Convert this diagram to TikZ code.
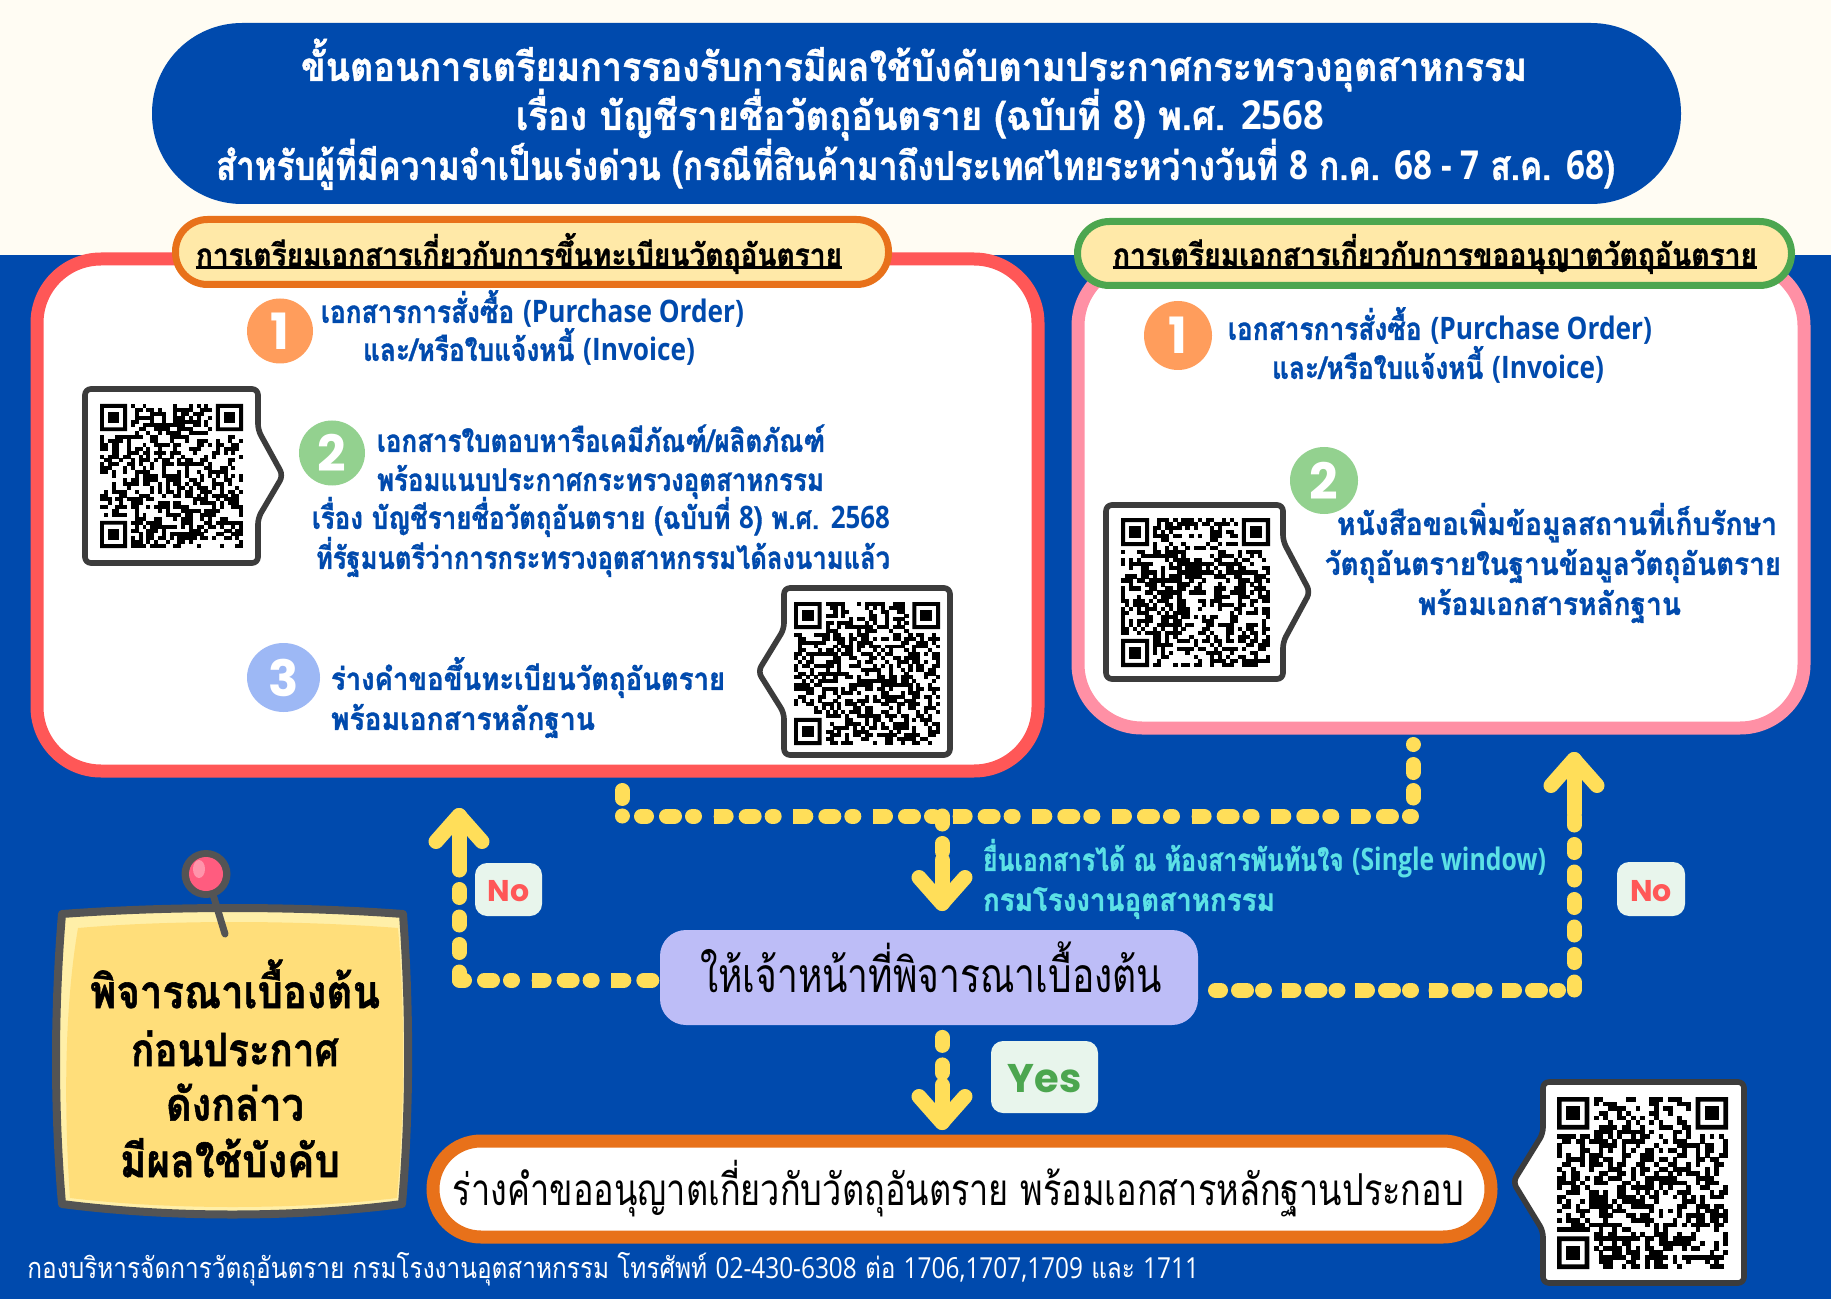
\documentclass[tikz,border=0pt]{standalone}
\usepackage{fontspec}
\usepackage{graphicx}
\usetikzlibrary{arrows.meta,shapes.geometric}
\setmainfont{Loma}[Script=Thai,BoldFeatures={FakeBold=1.2}]
\newfontfamily\latf{Open Sans}
\newfontfamily\digf{Poppins}
\newcommand{\la}[1]{{\latf #1}}
\definecolor{bluebg}{HTML}{004AAD}
\definecolor{cream}{HTML}{FFFCF3}
\definecolor{orangeb}{HTML}{E8711A}
\definecolor{redb}{HTML}{FF5757}
\definecolor{pinkb}{HTML}{FF90A5}
\definecolor{greenb}{HTML}{4CA64F}
\definecolor{pillfill}{HTML}{FFE9A8}
\definecolor{yel}{HTML}{FFDE59}
\definecolor{purp}{HTML}{BDBDF7}
\definecolor{mint}{HTML}{E8F5EC}
\definecolor{cyant}{HTML}{5CE1E6}
\definecolor{dark}{HTML}{3C3C3C}
\definecolor{stick}{HTML}{545454}
\definecolor{stickf}{HTML}{FFDE7A}
\definecolor{stickl}{HTML}{FFEFA8}
\definecolor{c1}{HTML}{FF9D5C}
\definecolor{c2}{HTML}{93D18F}
\definecolor{c3}{HTML}{9DB8F5}
\definecolor{pinr}{HTML}{FF5C7F}
\pgfdeclarearrow{
 name=Chev,
 setup code={\pgfarrowssettipend{3.75pt}\pgfarrowssetlineend{0pt}\pgfarrowssetbackend{-16pt}\pgfarrowssetvisualbackend{-16pt}},
 drawing code={\pgfsetlinewidth{7.5pt}\pgfsetroundcap\pgfsetroundjoin\pgfsetdash{}{0pt}%
  \pgfpathmoveto{\pgfqpoint{-13pt}{11.5pt}}\pgfpathlineto{\pgfpointorigin}\pgfpathlineto{\pgfqpoint{-13pt}{-11.5pt}}\pgfusepathqstroke}
}
\tikzset{
 hdots/.style={draw=yel,line width=7.5pt,line cap=round,
   dash pattern=on 2.5pt off 10pt on 4pt off 9pt on 1pt off 13.33pt,
   postaction={draw=yel,line width=7.5pt,line cap=butt,dash pattern=on 4.75pt off 35.08pt,dash phase=3.75pt}},
 hdotsb/.style={draw=yel,line width=7.5pt,line cap=round,
   dash pattern=on 2.5pt off 9pt on 4pt off 8pt on 1pt off 12.25pt,
   postaction={draw=yel,line width=7.5pt,line cap=butt,dash pattern=on 4.75pt off 32pt,dash phase=3.75pt}},
 vdots/.style={draw=yel,line width=7.5pt,line cap=round,dash pattern=on 4pt off 9.75pt},
 arrowline/.style={draw=yel,line width=7.5pt,line cap=round,-Chev},
 qrframe/.style={draw=dark,fill=white,line width=2.8pt,rounded corners=3pt},
 blob/.style={ellipse,inner sep=0pt,text=white,font=\digf\bfseries\fontsize{25}{25}\selectfont},
 cardbox/.style={draw,fill=white,line width=6.5pt,inner sep=0pt,outer sep=0pt},
 tagbox/.style={fill=mint,rounded corners=6pt,inner sep=0pt},
 ruleline/.style={draw=black,line width=1.5pt},
}
% box node from stroke-centre corners
\newcommand{\bx}[6]{\node[#6,minimum width={(#4-#2)*0.5pt},minimum height={(#5-#3)*0.5pt}] (#1) at ({(#2+#4)/2},{(#3+#5)/2}) {};}
% text line fitted to x1..x2 with vertical centre yc
\newcommand{\tline}[8]{\node[anchor=base,inner sep=0pt,text=#6] (#1) at ({(#2+#3)/2},{#4+0.7*#5}) {\resizebox{\dimexpr #3pt/2-#2pt/2\relax}{\height}{\fontsize{#5}{#5}\selectfont #7#8}};}
% matrix-code pattern
\newcommand{\qrm}[5]{%
\pgfmathsetmacro\qw{(#3-#1)*0.5/37}%
\pgfmathsetmacro\qh{(#4-#2)*0.5/37}%
\begin{scope}[shift={(#1,#2)},x=\qw pt,y=-\qh pt]
 \pgfmathsetseed{#5}
 \foreach \i in {0,...,36}{\foreach \j in {0,...,36}{%
  \pgfmathrandominteger{\rr}{0}{99}%
  \def\zone{0}%
  \ifnum\i<8 \ifnum\j<8 \def\zone{1}\fi \ifnum\j>28 \def\zone{1}\fi\fi
  \ifnum\i>28 \ifnum\j<8 \def\zone{1}\fi\fi
  \ifnum\zone=0 \ifnum\rr<50 \fill[black] (\i,\j) rectangle ++(1.03,1.03);\fi\fi
 }}
 \foreach \a/\b in {0/0,30/0,0/30}{
  \fill[black,even odd rule] (\a,\b) rectangle ++(7,7) ({\a+1},{\b+1}) rectangle ++(5,5);
  \fill[black] ({\a+2},{\b+2}) rectangle ++(3,3);
 }
\end{scope}}
\begin{document}
\begin{tikzpicture}[x=0.5pt,y=-0.5pt]
\useasboundingbox (0,0) rectangle (1831,1299);
\fill[bluebg] (0,0) rectangle (1831,1299);
\fill[cream] (0,0) rectangle (1831,255);
% header
\node[fill=bluebg,rounded corners=45pt,inner sep=0pt,minimum width=764.5pt,minimum height=90.5pt] (header) at (916.5,113.5) {};
\tline{h1}{301}{1527}{67}{20}{white}{\bfseries}{ขั้นตอนการเตรียมการรองรับการมีผลใช้บังคับตามประกาศกระทรวงอุตสาหกรรม}
\tline{h2}{516}{1324}{116}{20}{white}{\bfseries}{เรื่อง บัญชีรายชื่อวัตถุอันตราย (ฉบับที่ \la{8}) พ.ศ. \la{2568}}
\tline{h3}{216}{1615}{166}{20}{white}{\bfseries}{สำหรับผู้ที่มีความจำเป็นเร่งด่วน (กรณีที่สินค้ามาถึงประเทศไทยระหว่างวันที่ \la{8} ก.ค. \la{68 - 7} ส.ค. \la{68})}
% cards
\bx{leftcard}{37}{259}{1038}{771}{cardbox,draw=redb,rounded corners=32pt}
\bx{rightcard}{1078}{262}{1804}{728}{cardbox,draw=pinkb,rounded corners=32pt}
\bx{lefttitle}{175.5}{219.5}{888.5}{284.5}{draw=orangeb,fill=pillfill,line width=3.5pt,rounded corners=16pt,inner sep=0pt}
\bx{righttitle}{1077.5}{221.5}{1791.5}{285.5}{draw=greenb,fill=pillfill,line width=3.5pt,rounded corners=16pt,inner sep=0pt}
\tline{lt}{196}{842}{255}{15.5}{black}{\bfseries}{การเตรียมเอกสารเกี่ยวกับการขึ้นทะเบียนวัตถุอันตราย}
\tline{rt}{1113}{1757}{255}{15.5}{black}{\bfseries}{การเตรียมเอกสารเกี่ยวกับการขออนุญาตวัตถุอันตราย}
\draw[ruleline] ([yshift=-1pt]lt.base west) -- ([yshift=-1pt]lt.base east);
\draw[ruleline] ([yshift=-1pt]rt.base west) -- ([yshift=-1pt]rt.base east);
% numbered blobs
\node[blob,fill=c1,minimum width=33pt,minimum height=32.5pt] (l1) at (280,331) {1};
\node[blob,fill=c2,minimum width=33pt,minimum height=32.5pt] (l2) at (332,453) {2};
\node[blob,fill=c3,minimum width=36.5pt,minimum height=34.5pt] (l3) at (283.5,677.5) {3};
\node[blob,fill=c1,minimum width=34pt,minimum height=34.5pt] (r1) at (1178,335.5) {1};
\node[blob,fill=c2,minimum width=34pt,minimum height=33.5pt] (r2) at (1324,480.5) {2};
% left card text
\tline{a1}{321}{744}{312}{15.5}{bluebg}{\bfseries}{เอกสารการสั่งซื้อ \la{(Purchase Order)}}
\tline{a2}{363}{695}{350}{15.5}{bluebg}{\bfseries}{และ/หรือใบแจ้งหนี้ \la{(Invoice)}}
\tline{b1}{377}{825}{441}{15.5}{bluebg}{\bfseries}{เอกสารใบตอบหารือเคมีภัณฑ์/ผลิตภัณฑ์}
\tline{b2}{377}{824}{480}{15.5}{bluebg}{\bfseries}{พร้อมแนบประกาศกระทรวงอุตสาหกรรม}
\tline{b3}{312}{890}{518}{15.5}{bluebg}{\bfseries}{เรื่อง บัญชีรายชื่อวัตถุอันตราย (ฉบับที่ \la{8}) พ.ศ. \la{2568}}
\tline{b4}{316}{890}{558}{15.5}{bluebg}{\bfseries}{ที่รัฐมนตรีว่าการกระทรวงอุตสาหกรรมได้ลงนามแล้ว}
\tline{c1t}{331}{725}{679}{15.5}{bluebg}{\bfseries}{ร่างคำขอขึ้นทะเบียนวัตถุอันตราย}
\tline{c2t}{331}{595}{719}{15.5}{bluebg}{\bfseries}{พร้อมเอกสารหลักฐาน}
% right card text
\tline{d1}{1228}{1652}{329}{15.5}{bluebg}{\bfseries}{เอกสารการสั่งซื้อ \la{(Purchase Order)}}
\tline{d2}{1272}{1604}{368}{15.5}{bluebg}{\bfseries}{และ/หรือใบแจ้งหนี้ \la{(Invoice)}}
\tline{e1}{1337}{1777}{524}{15.5}{bluebg}{\bfseries}{หนังสือขอเพิ่มข้อมูลสถานที่เก็บรักษา}
\tline{e2}{1325}{1781}{564}{15.5}{bluebg}{\bfseries}{วัตถุอันตรายในฐานข้อมูลวัตถุอันตราย}
\tline{e3}{1418}{1681}{604}{15.5}{bluebg}{\bfseries}{พร้อมเอกสารหลักฐาน}
% code frames
\draw[qrframe] (85,389) -- (258,389) -- (258,430) -- (283,475.5) -- (258,518) -- (258,563) -- (85,563) -- cycle;
\qrm{100}{404}{243}{548}{11}
\draw[qrframe] (784,588) -- (950,588) -- (950,755) -- (784,755) -- (784,713) -- (758,671.5) -- (784,629) -- cycle;
\qrm{794}{602}{940}{745}{23}
\draw[qrframe] (1106,505) -- (1283,505) -- (1283,541) -- (1310,592) -- (1283,642) -- (1283,679) -- (1106,679) -- cycle;
\qrm{1121}{518}{1270}{667}{37}
\draw[qrframe] (1543,1082) -- (1744,1082) -- (1744,1283) -- (1543,1283) -- (1543,1231) -- (1513,1182) -- (1543,1133.5) -- cycle;
\qrm{1557}{1097}{1728}{1269}{51}
% flow boxes
\bx{review}{660}{930}{1198}{1025}{fill=purp,rounded corners=13pt,inner sep=0pt}
\tline{revt}{700}{1162}{976}{24}{black}{}{ให้เจ้าหน้าที่พิจารณาเบื้องต้น}
\bx{finalbox}{433}{1141}{1491}{1237}{draw=orangeb,fill=white,line width=6.5pt,rounded corners=24pt,inner sep=0pt}
\tline{fint}{453}{1464}{1190}{22}{black}{}{ร่างคำขออนุญาตเกี่ยวกับวัตถุอันตราย พร้อมเอกสารหลักฐานประกอบ}
\bx{yesbox}{991}{1041}{1098}{1113}{tagbox}
\node[text=greenb,font=\digf\bfseries\fontsize{20}{20}\selectfont,inner sep=0pt] (yes) at ([yshift=-1pt]yesbox) {Yes};
\bx{noleft}{475}{863}{542}{916}{tagbox}
\node[text=redb,font=\digf\bfseries\fontsize{15}{15}\selectfont,inner sep=0pt] (not1) at ([yshift=-1pt]noleft) {No};
\bx{noright}{1617}{862}{1685}{916}{tagbox}
\node[text=redb,font=\digf\bfseries\fontsize{15}{15}\selectfont,inner sep=0pt] (not2) at ([yshift=-1pt]noright) {No};
\tline{s1}{983}{1546}{860}{15.5}{cyant}{\bfseries}{ยื่นเอกสารได้ ณ ห้องสารพันทันใจ \la{(Single window)}}
\tline{s2}{983}{1275}{900}{15.5}{cyant}{\bfseries}{กรมโรงงานอุตสาหกรรม}
% named points on the connectors
\coordinate (pa) at (1413,744.5);
\coordinate (pb) at (1413,816);
\coordinate (pc) at (622,816);
\coordinate (pc2) at (641.5,816);
\coordinate (pd) at (622,790.5);
\coordinate (pe) at (942,816);
\coordinate (pf) at (942,860);
\coordinate (pg) at (942,911);
\coordinate (ph) at (459,980);
\coordinate (pi) at (459,869);
\coordinate (pj) at (459,808);
\coordinate (pk) at (1574,990);
\coordinate (pl) at (1574,813);
\coordinate (pm) at (1574,752);
\coordinate (pn) at (942,1040);
\coordinate (po) at (942,1085);
\coordinate (pp) at (942,1130);
\coordinate (pq) at (1215.5,990);
\coordinate (pr) at (459.5,980);
% connectors
\draw[vdots,dash pattern=on .01pt off 10pt on 4pt off 9pt on 3.75pt off 20pt] (pa) -- (pb);
\draw[hdots] (pc2) -- (pb);
\draw[vdots,dash pattern=on .01pt off 8.75pt on 4pt off 20pt] (pc) -- (pd);
\draw[vdots] (pe) -- (pf);
\draw[arrowline] (pf) -- (pg);
\draw[hdots] (pr) -- (review.west |- ph);
\draw[vdots] (ph) -- (pi);
\draw[arrowline] (pi) -- (pj);
\draw[hdotsb] (pq) -- (pk);
\draw[vdots] (pk) -- (pl);
\draw[arrowline] (pl) -- (pm);
\draw[vdots] (review.south -| pn) ++(0,12) -- (po);
\draw[arrowline] (po) -- (pp);
% sticky note
\fill[stickl] (62,914) .. controls (170,906) and (295,906) .. (403,914) .. controls (410,1010) and (410,1110) .. (402,1204) .. controls (295,1218) and (170,1218) .. (62,1204) .. controls (54,1110) and (54,1010) .. (62,914) -- cycle;
\fill[stickf] (78,928) .. controls (170,920) and (295,920) .. (398,928) .. controls (405,1010) and (405,1110) .. (397,1198) .. controls (295,1210) and (170,1210) .. (70,1198) .. controls (64,1110) and (64,1010) .. (78,928) -- cycle;
\draw[stick,line width=4pt,line join=round] (62,914) .. controls (170,906) and (295,906) .. (403,914) .. controls (410,1010) and (410,1110) .. (402,1204) .. controls (295,1218) and (170,1218) .. (62,1204) .. controls (54,1110) and (54,1010) .. (62,914) -- cycle;
\draw[stick,line width=3.5pt,line cap=round] (213.5,896) -- (225,934);
\fill[stick] (206,874) ellipse [x radius=12.25pt,y radius=12pt];
\fill[pinr] (206,874) ellipse [x radius=8.5pt,y radius=8.5pt];
\fill[white,opacity=.35] (199,869) ellipse [x radius=3pt,y radius=4.5pt];
\tline{n1}{90}{380}{992}{23}{black}{\bfseries}{พิจารณาเบื้องต้น}
\tline{n2}{131}{339}{1050}{23}{black}{\bfseries}{ก่อนประกาศ}
\tline{n3}{166}{304}{1104.5}{23}{black}{\bfseries}{ดังกล่าว}
\tline{n4}{120}{340}{1161}{23}{black}{\bfseries}{มีผลใช้บังคับ}
% footer
\tline{foot}{27.5}{1199}{1268}{14.5}{white}{}{กองบริหารจัดการวัตถุอันตราย กรมโรงงานอุตสาหกรรม โทรศัพท์ \la{02-430-6308} ต่อ \la{1706,1707,1709} และ \la{1711}}
\end{tikzpicture}
\end{document}
